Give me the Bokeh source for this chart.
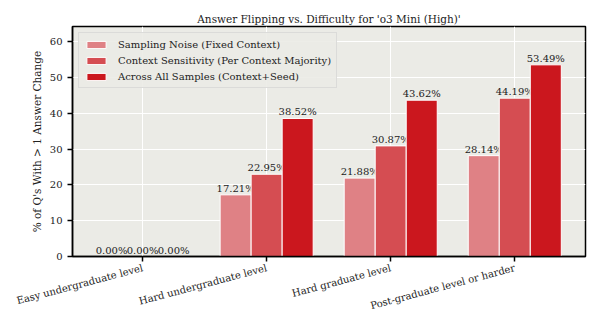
import numpy as np
from bokeh.plotting import figure
from bokeh.models import ColumnDataSource, FixedTicker, Range1d, Legend, LegendItem
from bokeh.transform import dodge
from bokeh.core.properties import value
from bokeh.embed import file_html
from bokeh.resources import INLINE

categories = ["Easy undergraduate level", "Hard undergraduate level",
              "Hard graduate level", "Post-graduate level or harder"]
sampling_noise = [0.00, 17.21, 21.88, 28.14]
context_sens = [0.00, 22.95, 30.87, 44.19]
across_all = [0.00, 38.52, 43.62, 53.49]
series_names = ["Sampling Noise (Fixed Context)",
                "Context Sensitivity (Per Context Majority)",
                "Across All Samples (Context+Seed)"]
colors = ["#df8185", "#d54d52", "#cb171e"]
yticks = [0, 10, 20, 30, 40, 50, 60]

FONT = "DejaVu Serif"
BG = "#ebebe6"

src = ColumnDataSource(dict(
    x=list(range(len(categories))),
    s0=sampling_noise, s1=context_sens, s2=across_all,
    l0=[f"{v:.2f}%" for v in sampling_noise],
    l1=[f"{v:.2f}%" for v in context_sens],
    l2=[f"{v:.2f}%" for v in across_all],
))

p = figure(width=596, height=324, output_backend="svg", toolbar_location=None,
           x_range=Range1d(-0.565, 3.57), y_range=Range1d(0, max(across_all) * 1.2),
           title="Answer Flipping vs. Difficulty for 'o3 Mini (High)'",
           min_border_left=72, min_border_right=11, min_border_top=26, min_border_bottom=68)

p.background_fill_color = BG
p.border_fill_color = "white"
p.outline_line_color = "black"
p.outline_line_width = 1.5

p.title.text_font = FONT
p.title.text_font_size = "10.5px"
p.title.text_font_style = "normal"
p.title.text_color = "#222222"
p.title.align = "center"
p.title.offset = 0
p.title.standoff = 3

offsets = [-0.25, 0.0, 0.25]
renderers = []
for i, off in enumerate(offsets):
    r = p.vbar(x=dodge("x", off), top=f"s{i}", width=0.25, source=src,
               fill_color=colors[i], line_color="white", line_width=1)
    renderers.append(r)
    p.text(x=dodge("x", off), y=f"s{i}", text=f"l{i}", source=src,
           text_align="center", text_baseline="bottom", y_offset=-1,
           text_font=value(FONT), text_font_size="10px", text_color="#222222")

legend = Legend(items=[LegendItem(label=series_names[i], renderers=[renderers[i]]) for i in range(3)],
                location="top_left")
legend.label_text_font = FONT
legend.label_text_font_size = "10px"
legend.label_text_color = "#222222"
legend.background_fill_color = BG
legend.background_fill_alpha = 0.9
legend.border_line_color = "#cccccc"
legend.border_line_width = 1
legend.glyph_width = 24
legend.glyph_height = 9
legend.label_height = 12
legend.spacing = 4
legend.padding = 5
legend.margin = 6
legend.label_standoff = 10
p.add_layout(legend)

p.xaxis.ticker = FixedTicker(ticks=list(range(len(categories))))
p.xaxis.major_label_overrides = {i: c for i, c in enumerate(categories)}
p.xaxis.major_label_orientation = 0.26
p.xaxis.major_label_standoff = 6
p.yaxis.ticker = FixedTicker(ticks=yticks)

for ax in [p.xaxis, p.yaxis]:
    ax.axis_line_color = "black"
    ax.axis_line_width = 1.5
    ax.major_tick_line_color = "black"
    ax.major_tick_line_width = 1.5
    ax.major_tick_out = 5
    ax.major_tick_in = 0
    ax.minor_tick_line_color = None
    ax.major_label_text_font = FONT
    ax.major_label_text_font_size = "10px"
    ax.major_label_text_color = "#222222"

p.yaxis.axis_label = "% of Q's With > 1 Answer Change"
p.yaxis.axis_label_text_font = FONT
p.yaxis.axis_label_text_font_style = "normal"
p.yaxis.axis_label_text_font_size = "10.5px"
p.yaxis.axis_label_text_color = "#222222"
p.yaxis.axis_label_standoff = 4

p.xgrid.grid_line_color = "white"
p.ygrid.grid_line_color = "white"
p.xgrid.grid_line_width = 1
p.ygrid.grid_line_width = 1

open("out.html", "w").write(file_html(p, INLINE))
